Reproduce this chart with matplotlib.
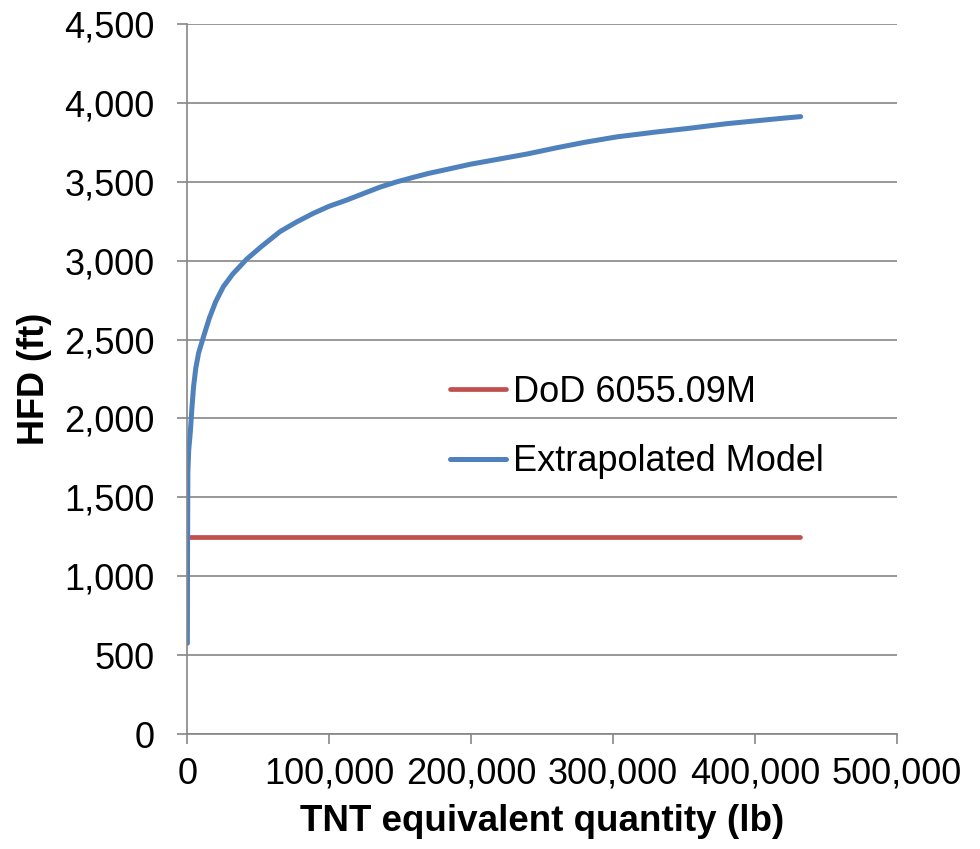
import matplotlib
matplotlib.use("Agg")
import matplotlib.pyplot as plt
from matplotlib.ticker import FuncFormatter

# ============================================
# data
# ============================================
x_dod = [2000, 432000]
y_dod = [1250, 1250]

x_model = [50, 150, 400, 1000, 2100, 3200, 4450, 6000, 8000, 11500,
           15500, 20000, 25400, 32000, 41900, 52000, 65300, 77000, 88800,
           100000, 112300, 124000, 135800, 147000, 159300, 170000, 182800,
           200000, 220400, 240000, 260000, 280000, 303000, 330000, 354700,
           380000, 405000, 420000, 432300]
y_model = [575, 1100, 1660, 1800, 1910, 2060, 2204, 2320, 2416, 2520,
           2635, 2740, 2835, 2915, 3010, 3088, 3184, 3245, 3300,
           3345, 3384, 3425, 3466, 3498, 3528, 3553, 3578,
           3612, 3645, 3677, 3715, 3750, 3785, 3815, 3840,
           3868, 3890, 3903, 3913]

x_ticks = [0, 100000, 200000, 300000, 400000, 500000]
y_ticks = [0, 500, 1000, 1500, 2000, 2500, 3000, 3500, 4000, 4500]

RED = "#C0504D"
BLUE = "#4F81BD"
GRID = "#868686"

plt.rcParams["font.family"] = ["Liberation Sans", "DejaVu Sans"]

fig = plt.figure(figsize=(9.8, 8.49), dpi=100)
ax = fig.add_axes([187.3 / 980, 1 - 734 / 849, (896.7 - 187.3) / 980, (734 - 24) / 849])

ax.plot(x_dod, y_dod, color=RED, lw=3.4, solid_capstyle="round", label="DoD 6055.09M")
ax.plot(x_model, y_model, color=BLUE, lw=3.6, solid_capstyle="round",
        solid_joinstyle="round", label="Extrapolated Model")

ax.set_xlim(0, 500000)
ax.set_ylim(0, 4500)
ax.set_xticks(x_ticks)
ax.set_yticks(y_ticks)
fmt = FuncFormatter(lambda v, p: "{:,.0f}".format(v))
ax.xaxis.set_major_formatter(fmt)
ax.yaxis.set_major_formatter(fmt)

ax.grid(axis="y", color=GRID, lw=1.2)
ax.set_axisbelow(True)
for s in ["top", "right"]:
    ax.spines[s].set_visible(False)
for s in ["left", "bottom"]:
    ax.spines[s].set_color(GRID)
    ax.spines[s].set_linewidth(1.2)

ax.tick_params(axis="x", direction="out", length=7.5, width=1.2, color=GRID,
               labelsize=26, pad=9)
ax.tick_params(axis="y", direction="out", length=7.5, width=1.2, color=GRID,
               labelsize=26, pad=16)

ax.set_xlabel("TNT equivalent quantity (lb)", fontsize=26.5, fontweight="bold", labelpad=9)
ax.set_ylabel("HFD (ft)", fontsize=26, fontweight="bold", labelpad=9)

leg = ax.legend(loc="center left", bbox_to_anchor=(450 / 980, 1 - 427 / 849),
                bbox_transform=fig.transFigure, frameon=False, fontsize=26,
                handlelength=1.55, handletextpad=0.2, labelspacing=0.95,
                borderpad=0, borderaxespad=0)

fig.savefig("out.png", dpi=100)
